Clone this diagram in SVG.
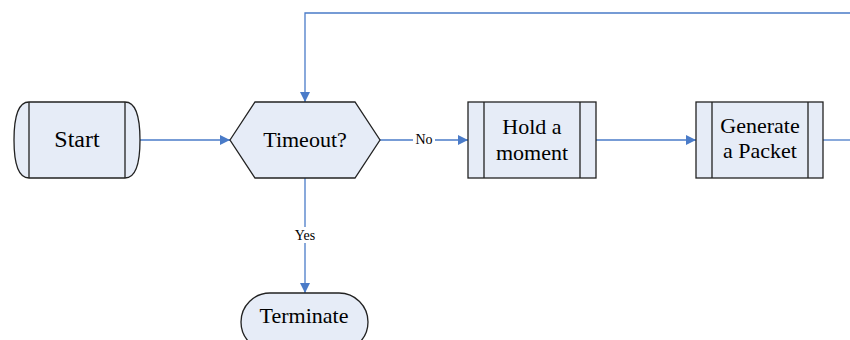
<svg xmlns="http://www.w3.org/2000/svg" width="850" height="340" viewBox="0 0 850 340">
  <style>
    .shape { fill: #E6ECF7; stroke: #222; stroke-width: 1.3; }
    .bar { fill: none; stroke: #222; stroke-width: 1.3; }
    .txt { font-family: "Liberation Serif", "Times New Roman", serif; fill: #000; text-anchor: middle; }
    .lbl { font-family: "Liberation Serif", "Times New Roman", serif; font-size: 14px; fill: #000; text-anchor: middle; }
    .conn { fill: none; stroke: #4A7BC8; stroke-width: 1.3; }
  </style>
  <defs>
    <marker id="arrow" viewBox="0 0 10 10" refX="10" refY="5" markerWidth="10" markerHeight="10" markerUnits="userSpaceOnUse" orient="auto">
      <path d="M0,0 L10,5 L0,10 Z" fill="#4A7BC8"/>
    </marker>
  </defs>

  <rect width="850" height="340" fill="#fff"/>

  <g id="connectors">
    <path class="conn" d="M140,140 H230" marker-end="url(#arrow)"/>
    <path class="conn" d="M380,140 H468" marker-end="url(#arrow)"/>
    <path class="conn" d="M596,140 H696" marker-end="url(#arrow)"/>
    <path class="conn" d="M823,140 H850"/>
    <path class="conn" d="M850,13 H305 V102" marker-end="url(#arrow)"/>
    <path class="conn" d="M305,178 V293" marker-end="url(#arrow)"/>
    <rect x="413" y="132" width="22" height="16" fill="#fff"/>
    <text class="lbl" x="424" y="144">No</text>
    <rect x="292" y="227" width="26" height="16" fill="#fff"/>
    <text class="lbl" x="305" y="240">Yes</text>
  </g>

  <g id="start">
    <path class="shape" d="M29,102 H125 Q140,102 140,140 Q140,178 125,178 H29 Q14,178 14,140 Q14,102 29,102 Z"/>
    <path class="bar" d="M29,102 V178 M125,102 V178"/>
    <text class="txt" x="77" y="147" font-size="24">Start</text>
  </g>

  <g id="timeout">
    <polygon class="shape" points="230,140 255,102 355,102 380,140 355,178 255,178"/>
    <text class="txt" x="305" y="147" font-size="22">Timeout?</text>
  </g>

  <g id="hold">
    <rect class="shape" x="468" y="102" width="128" height="76"/>
    <path class="bar" d="M484,102 V178 M580,102 V178"/>
    <text class="txt" x="532" y="134" font-size="22">Hold a</text>
    <text class="txt" x="532" y="160" font-size="22">moment</text>
  </g>

  <g id="generate">
    <rect class="shape" x="696" y="102" width="127" height="76"/>
    <path class="bar" d="M712,102 V178 M808,102 V178"/>
    <text class="txt" x="760" y="133" font-size="22">Generate</text>
    <text class="txt" x="760" y="158" font-size="22">a Packet</text>
  </g>

  <g id="terminate">
    <rect class="shape" x="241" y="293" width="127" height="58" rx="29" ry="29"/>
    <text class="txt" x="304" y="323" font-size="22">Terminate</text>
  </g>
</svg>
